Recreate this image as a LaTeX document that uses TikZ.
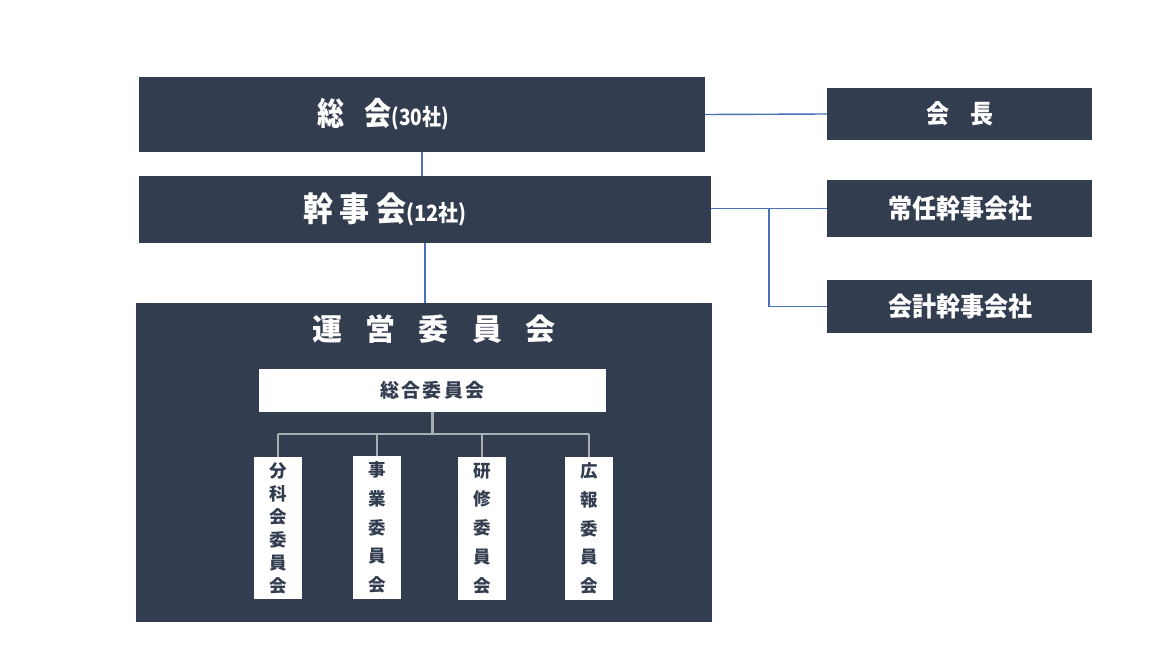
\documentclass[tikz,border=0pt]{standalone}
\usepackage{fontspec}
\setmainfont{Noto Sans CJK JP}
\definecolor{navy}{HTML}{333D50}
\definecolor{linkblue}{HTML}{4A70B5}
\definecolor{bus}{HTML}{A9AEB4}
\begin{document}
\begin{tikzpicture}[x=1pt,y=-1pt,
  darkbox/.style={fill=navy,draw=none,inner sep=0pt},
  whitebox/.style={fill=white,draw=none,inner sep=0pt,text=navy,font=\bfseries},
  label/.style={text=white,inner sep=0pt,font=\bfseries},
  vbox/.style={whitebox,minimum width=48pt,minimum height=143pt,align=center},
  link/.style={draw=linkblue,line width=1.4pt},
  buslink/.style={draw=bus,line width=2.8pt}]
\useasboundingbox (0,0) rectangle (1157,645);
\fill[white] (0,0) rectangle (1157,645);
% top level
\node[darkbox,minimum width=566pt,minimum height=75pt] (sokai) at (422,114.5) {};
\node[label] (sokaitext) at (383,114.5)
  {\scalebox{1}[1.18]{\fontsize{27}{27}\selectfont 総\hspace{0.75em}会\fontsize{19}{19}\selectfont (30社)}};
\node[darkbox,minimum width=265pt,minimum height=52pt] (kaicho) at (959.5,114) {};
\node[label] (kaichotext) at (960,114)
  {\scalebox{1}[1.12]{\fontsize{23}{23}\selectfont 会\hspace{0.95em}長}};
\node[darkbox,minimum width=572pt,minimum height=67pt] (kanji) at (425,209.5) {};
\node[label] (kanjitext) at (385,209.5)
  {\scalebox{1}[1.12]{\fontsize{30}{30}\selectfont 幹\hspace{0.22em}事\hspace{0.22em}会\fontsize{20}{20}\selectfont (12社)}};
\node[darkbox,minimum width=265pt,minimum height=57pt] (jonin) at (959.5,208.5) {};
\node[label] (jonintext) at (960,208.5)
  {\scalebox{1}[1.1]{\fontsize{24}{24}\selectfont 常任幹事会社}};
\node[darkbox,minimum width=265pt,minimum height=53pt] (kaikei) at (959.5,306.5) {};
\node[label] (kaikeitext) at (960,306.5)
  {\scalebox{1}[1.1]{\fontsize{24}{24}\selectfont 会計幹事会社}};
% steering committee
\node[darkbox,minimum width=576pt,minimum height=319pt] (unei) at (424,462.5) {};
\node[label] (uneititle) at (434,329)
  {\fontsize{30}{30}\selectfont 運\hspace{0.78em}営\hspace{0.78em}委\hspace{0.78em}員\hspace{0.78em}会};
\node[whitebox,minimum width=347pt,minimum height=43pt] (sogo) at (432.5,390.5)
  {\fontsize{19}{19}\selectfont 総\hspace{0.12em}合\hspace{0.12em}委\hspace{0.12em}員\hspace{0.12em}会};
\node[vbox,minimum height=142pt,font=\bfseries\fontsize{17.5}{23}\selectfont] (bunka) at (278,528)
  {分\\科\\会\\委\\員\\会};
\node[vbox,font=\bfseries\fontsize{17.5}{28.8}\selectfont] (jigyo) at (377,527.5)
  {事\\業\\委\\員\\会};
\node[vbox,font=\bfseries\fontsize{17.5}{28.8}\selectfont] (kenshu) at (482,528.5)
  {研\\修\\委\\員\\会};
\node[vbox,font=\bfseries\fontsize{17.5}{28.8}\selectfont] (koho) at (589,528.5)
  {広\\報\\委\\員\\会};
% blue connectors
\draw[link] (sokai.south) -- (sokai.south |- kanji.north);
\draw[link] (kanji.south) -- (kanji.south |- unei.north);
\draw[link] (sokai.east) -- (kaicho.west);
\draw[link] (kanji.east |- jonin.west) -- (jonin.west);
\coordinate (branch) at (769,208.5);
\draw[link] (branch) -- (branch |- kaikei.west) -- (kaikei.west);
% gray bus
\coordinate (busy) at (0,434);
\draw[buslink] (sogo.south) -- (sogo.south |- busy);
\draw[buslink] (bunka.north |- busy) -- (koho.north |- busy);
\draw[buslink] (bunka.north |- busy) -- (bunka.north);
\draw[buslink] (jigyo.north |- busy) -- (jigyo.north);
\draw[buslink] (kenshu.north |- busy) -- (kenshu.north);
\draw[buslink] (koho.north |- busy) -- (koho.north);
\end{tikzpicture}
\end{document}
